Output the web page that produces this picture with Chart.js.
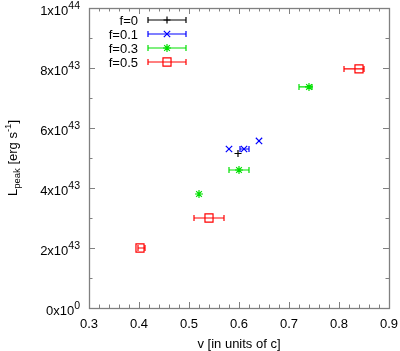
<!DOCTYPE html>
<html>
<head>
<meta charset="utf-8">
<title>L_peak vs v</title>
<script src="https://cdn.jsdelivr.net/npm/chart.js@4.4.0/dist/chart.umd.min.js"></script>
<style>
  html, body { margin: 0; padding: 0; background: #fff; }
  #wrap { width: 400px; height: 351px; }
</style>
</head>
<body>
<div id="wrap"><canvas id="chart" width="400" height="351"></canvas></div>
<script>
// ====== Data (y in units of 1e43 erg/s) ======
const seriesNames = ["f=0", "f=0.1", "f=0.3", "f=0.5"];

const f0V = [0.598];
const f0L = [5.15];
const f0Lo = [0.598];
const f0Hi = [0.598];

const f01V = [0.580, 0.610, 0.640];
const f01L = [5.30, 5.30, 5.57];
const f01Lo = [0.580, 0.602, 0.640];
const f01Hi = [0.580, 0.620, 0.640];

const f03V = [0.520, 0.600, 0.740];
const f03L = [3.80, 4.60, 7.37];
const f03Lo = [0.520, 0.580, 0.720];
const f03Hi = [0.520, 0.620, 0.746];

const f05V = [0.402, 0.540, 0.840];
const f05L = [2.00, 3.00, 7.97];
const f05Lo = [0.398, 0.510, 0.810];
const f05Hi = [0.412, 0.570, 0.850];

// tick labels
const xTicks = [0.3, 0.4, 0.5, 0.6, 0.7, 0.8, 0.9];
const xTickLabels = ["0.3", "0.4", "0.5", "0.6", "0.7", "0.8", "0.9"];
const yTicks = [0, 2, 4, 6, 8, 10];
const yTickBase = ["0x10", "2x10", "4x10", "6x10", "8x10", "1x10"];
const yTickExp = ["0", "43", "43", "43", "43", "44"];

// ====== Helpers ======
const FONT = "'Liberation Sans', Arial, Helvetica, sans-serif";
const AXIS_COLOR = "#808080";

function toPoints(xs, ys, lo, hi) {
    return xs.map((x, i) => ({ x, y: ys[i], lo: lo[i], hi: hi[i] }));
}

const styles = [
    { color: "#000000", pointStyle: "cross", radius: 3.5 },
    { color: "#0000ff", pointStyle: "crossRot", radius: 4.5 },
    { color: "#00e000", pointStyle: "star", radius: 4 },
    { color: "#ff0000", pointStyle: "rect", radius: 5.7 }
];

const pointSets = [
    toPoints(f0V, f0L, f0Lo, f0Hi),
    toPoints(f01V, f01L, f01Lo, f01Hi),
    toPoints(f03V, f03L, f03Lo, f03Hi),
    toPoints(f05V, f05L, f05Lo, f05Hi)
];

const datasets = seriesNames.map((name, i) => ({
    label: name,
    data: pointSets[i],
    showLine: false,
    pointStyle: styles[i].pointStyle,
    pointRadius: styles[i].radius,
    pointHoverRadius: styles[i].radius,
    pointBorderWidth: 1.2,
    borderColor: styles[i].color,
    backgroundColor: "rgba(0,0,0,0)",
    pointBackgroundColor: "rgba(0,0,0,0)"
}));

// horizontal error bars with end caps
function drawErrBar(ctx, x1, x2, y, color) {
    ctx.save();
    ctx.strokeStyle = color;
    ctx.lineWidth = 1.2;
    ctx.beginPath();
    ctx.moveTo(x1, y);
    ctx.lineTo(x2, y);
    ctx.moveTo(x1, y - 3);
    ctx.lineTo(x1, y + 3);
    ctx.moveTo(x2, y - 3);
    ctx.lineTo(x2, y + 3);
    ctx.stroke();
    ctx.restore();
}

const errorBarPlugin = {
    id: "errorBars",
    beforeDatasetsDraw(chart) {
        const { ctx, scales: { x, y } } = chart;
        chart.data.datasets.forEach((ds) => {
            ds.data.forEach((p) => {
                if (p.hi - p.lo <= 0) return;
                drawErrBar(ctx, x.getPixelForValue(p.lo), x.getPixelForValue(p.hi),
                    y.getPixelForValue(p.y), ds.borderColor);
            });
        });
    }
};

// frame, mirrored inward ticks, tick labels and titles
const axesPlugin = {
    id: "gnuAxes",
    afterDraw(chart) {
        const { ctx, chartArea: a, scales: { x, y } } = chart;
        ctx.save();
        ctx.strokeStyle = AXIS_COLOR;
        ctx.lineWidth = 1;
        ctx.beginPath();
        // minor + major ticks on x (every 0.02)
        for (let k = 0; k <= 30; k++) {
            const px = Math.round(x.getPixelForValue(0.3 + k * 0.02)) + 0.5;
            const len = k % 5 === 0 ? 6 : 3.5;
            ctx.moveTo(px, a.bottom);
            ctx.lineTo(px, a.bottom - len);
            ctx.moveTo(px, a.top);
            ctx.lineTo(px, a.top + len);
        }
        // y ticks every 1e43
        for (let k = 0; k <= 10; k++) {
            const py = Math.round(y.getPixelForValue(k)) + 0.5;
            const len = k % 2 === 0 ? 6 : 3.5;
            ctx.moveTo(a.left, py);
            ctx.lineTo(a.left + len, py);
            ctx.moveTo(a.right, py);
            ctx.lineTo(a.right - len, py);
        }
        ctx.stroke();
        ctx.lineWidth = 1.3;
        ctx.strokeRect(Math.round(a.left) + 0.5, Math.round(a.top) + 0.5,
            Math.round(a.right - a.left), Math.round(a.bottom - a.top));

        // x tick labels
        ctx.fillStyle = "#000";
        ctx.font = "13px " + FONT;
        ctx.textAlign = "center";
        ctx.textBaseline = "alphabetic";
        xTicks.forEach((v, i) => {
            ctx.fillText(xTickLabels[i], x.getPixelForValue(v), 328);
        });

        // y tick labels with superscript exponent
        yTicks.forEach((v, i) => {
            const py = y.getPixelForValue(v);
            ctx.font = "10.5px " + FONT;
            const ew = ctx.measureText(yTickExp[i]).width;
            ctx.textAlign = "left";
            ctx.fillText(yTickExp[i], 80 - ew, py + 1);
            ctx.font = "13px " + FONT;
            ctx.textAlign = "right";
            ctx.fillText(yTickBase[i], 80 - ew, py + 7);
        });

        // x title
        ctx.font = "13px " + FONT;
        ctx.textAlign = "center";
        ctx.fillText("v [in units of c]", (a.left + a.right) / 2, 348);

        // y title: L_peak [erg s^-1], rotated
        const parts = [
            { t: "L", size: 13, dy: 0 },
            { t: "peak", size: 9.5, dy: 3 },
            { t: " [erg s", size: 13, dy: 0 },
            { t: "-1", size: 9.5, dy: -6 },
            { t: "]", size: 13, dy: 0 }
        ];
        let total = 0;
        parts.forEach((p) => {
            ctx.font = p.size + "px " + FONT;
            p.w = ctx.measureText(p.t).width;
            total += p.w;
        });
        ctx.save();
        ctx.translate(17, (a.top + a.bottom) / 2);
        ctx.rotate(-Math.PI / 2);
        ctx.textAlign = "left";
        let cx = -total / 2;
        parts.forEach((p) => {
            ctx.font = p.size + "px " + FONT;
            ctx.fillText(p.t, cx, p.dy);
            cx += p.w;
        });
        ctx.restore();

        // legend
        const rows = [20, 34, 48, 62];
        chart.data.datasets.forEach((ds, i) => {
            const ly = rows[i];
            ctx.font = "13px " + FONT;
            ctx.textAlign = "right";
            ctx.fillStyle = "#000";
            ctx.fillText(ds.label, 138, ly + 5);
            drawErrBar(ctx, 148, 186, ly, ds.borderColor);
            ctx.save();
            ctx.strokeStyle = ds.borderColor;
            ctx.fillStyle = "rgba(0,0,0,0)";
            ctx.lineWidth = 1.2;
            Chart.helpers.drawPoint(ctx, {
                pointStyle: ds.pointStyle,
                radius: ds.pointRadius,
                borderWidth: 1.2,
                rotation: 0
            }, 167, ly);
            ctx.restore();
        });
        ctx.restore();
    }
};

// ====== Chart ======
new Chart(document.getElementById("chart").getContext("2d"), {
    type: "scatter",
    data: { datasets },
    options: {
        responsive: false,
        animation: false,
        devicePixelRatio: 1,
        layout: { padding: { left: 89, top: 8, right: 11, bottom: 43 } },
        plugins: { legend: { display: false }, tooltip: { enabled: false } },
        scales: {
            x: { type: "linear", min: 0.3, max: 0.9, display: false },
            y: { type: "linear", min: 0, max: 10, display: false }
        }
    },
    plugins: [errorBarPlugin, axesPlugin]
});
</script>
</body>
</html>
